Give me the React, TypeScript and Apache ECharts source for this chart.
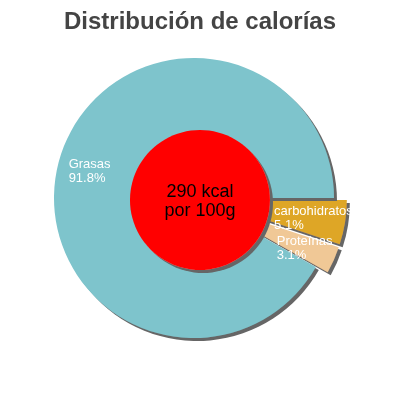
import { useEffect, useRef } from "react";
import * as echarts from "echarts";

type EChartsOption = echarts.EChartsOption;

const names = ["carbohidratos", "Proteínas", "Grasas"];
const shares = [5.1, 3.1, 91.8];
const colors = ["#dea628", "#f0c896", "#7ec4cc"];
const exploded = [true, true, false];
const centerText = "290 kcal\npor 100g";
const titleText = "Distribución de calorías";

const font = "'Liberation Sans', Arial, sans-serif";

export default function App() {
  const chartRef = useRef<HTMLDivElement>(null);

  useEffect(() => {
    if (!chartRef.current) return;

    const shadow = {
      shadowColor: "#666",
      shadowBlur: 1,
      shadowOffsetX: 3,
      shadowOffsetY: 3,
    };

    // porciones de la tarta
    const pieData = names.map((name, i) => ({
      name,
      value: shares[i],
      selected: exploded[i],
      itemStyle: { color: colors[i] },
    }));

    // misma tarta, transparente, solo para colocar las etiquetas
    const labelData = names.map((name, i) => ({
      name,
      value: shares[i],
      selected: exploded[i],
    }));

    const common = {
      type: "pie" as const,
      center: [194, 198],
      startAngle: 0,
      clockwise: true,
      selectedMode: "multiple" as const,
      selectedOffset: 13,
      avoidLabelOverlap: false,
      silent: true,
      labelLine: { show: false },
      emphasis: { disabled: true },
    };

    const chart = echarts.init(chartRef.current, null, { renderer: "svg" });
    const option: EChartsOption = {
      animation: false,
      title: {
        text: titleText,
        left: "center",
        top: 3,
        textStyle: {
          fontFamily: font,
          fontSize: 24,
          fontWeight: "bold",
          color: "#444",
        },
      },
      series: [
        {
          ...common,
          radius: [0, 140],
          itemStyle: shadow,
          select: { itemStyle: shadow },
          label: { show: false },
          data: pieData,
        },
        {
          type: "pie",
          center: [200, 200],
          radius: [0, 70],
          silent: true,
          itemStyle: { color: "#ff0000", ...shadow },
          label: {
            show: true,
            position: "center",
            formatter: centerText,
            color: "#000",
            fontFamily: font,
            fontSize: 18,
            lineHeight: 19,
          },
          labelLine: { show: false },
          emphasis: { disabled: true },
          data: [{ name: "kcal", value: 1 }],
        },
        {
          ...common,
          radius: [50, 160],
          itemStyle: { color: "transparent" },
          select: { itemStyle: { color: "transparent" } },
          labelLayout: { hideOverlap: false },
          label: {
            show: true,
            position: "inside",
            formatter: (p: any) => `{t|${p.name}}\n{t|${p.value}%}`,
            rich: {
              t: {
                align: "left",
                color: "#fff",
                fontFamily: font,
                fontSize: 13,
                lineHeight: 14,
              },
            },
          },
          data: labelData,
        },
      ],
    };
    chart.setOption(option);

    return () => {
      chart.dispose();
    };
  }, []);

  return (
    <div
      ref={chartRef}
      style={{ position: "fixed", left: 0, top: 0, width: 400, height: 400 }}
    />
  );
}
